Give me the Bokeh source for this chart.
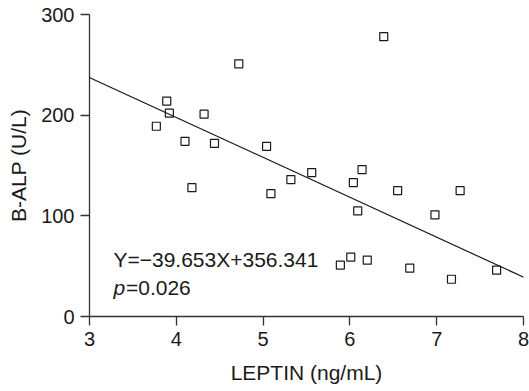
from bokeh.plotting import figure
from bokeh.models import Slope, Label, FixedTicker
from bokeh.embed import file_html
from bokeh.resources import INLINE

# Data
leptin = [3.77, 3.89, 3.92, 4.10, 4.18, 4.32, 4.44, 4.72, 5.04, 5.09, 5.32, 5.56,
          5.89, 6.01, 6.04, 6.09, 6.14, 6.20, 6.39, 6.55, 6.69, 6.98, 7.17, 7.27, 7.69]
balp = [189, 214, 202, 174, 128, 201, 172, 251, 169, 122, 136, 143,
        51, 59, 133, 105, 146, 56, 278, 125, 48, 101, 37, 125, 46]
slope = -39.653
intercept = 356.341
p_value = 0.026
x_ticks = [3, 4, 5, 6, 7, 8]
y_ticks = [0, 100, 200, 300]

FONT = "Liberation Sans"
INK = "#1a1a1a"
AXIS = "#333333"

p = figure(width=529, height=391, x_range=(3, 8), y_range=(0, 300),
           output_backend="svg", toolbar_location=None,
           min_border_left=89, min_border_right=6, min_border_top=14, min_border_bottom=75)
p.outline_line_color = None
p.grid.visible = False
p.background_fill_color = "white"
p.border_fill_color = "white"

for ax in (p.xaxis[0], p.yaxis[0]):
    ax.axis_line_color = AXIS
    ax.axis_line_width = 1.3
    ax.major_tick_line_color = AXIS
    ax.major_tick_line_width = 1.3
    ax.major_tick_out = 9
    ax.major_tick_in = 0
    ax.minor_tick_line_color = None
    ax.major_label_text_font = FONT
    ax.major_label_text_font_size = "20px"
    ax.major_label_text_color = INK
    ax.major_label_standoff = 6
    ax.axis_label_text_font = FONT
    ax.axis_label_text_font_size = "21px"
    ax.axis_label_text_font_style = "normal"
    ax.axis_label_text_color = INK

p.xaxis.ticker = FixedTicker(ticks=x_ticks)
p.yaxis.ticker = FixedTicker(ticks=y_ticks)
p.xaxis.axis_label = "LEPTIN (ng/mL)"
p.yaxis.axis_label = "B-ALP (U/L)"
p.xaxis.axis_label_standoff = 12
p.yaxis.axis_label_standoff = 8

p.add_layout(Slope(gradient=slope, y_intercept=intercept, line_color=INK, line_width=1.2))

p.scatter(leptin, balp, marker="square", size=8, fill_color=None,
          line_color=INK, line_width=1.2)

eq = f"Y=\u2212{abs(slope):.3f}X+{intercept:.3f}"
p.add_layout(Label(x=3.276, y=56.6, text=eq, text_font=FONT, text_font_size="21px",
                   text_color=INK, text_baseline="alphabetic"))
p.add_layout(Label(x=3.276, y=28.8, text="p", text_font=FONT, text_font_size="21px",
                   text_font_style="italic", text_color=INK, text_baseline="alphabetic"))
p.add_layout(Label(x=3.276, y=28.8, x_offset=12.5, text=f"={p_value:.3f}", text_font=FONT,
                   text_font_size="21px", text_color=INK, text_baseline="alphabetic"))

open("out.html", "w").write(file_html(p, INLINE))
